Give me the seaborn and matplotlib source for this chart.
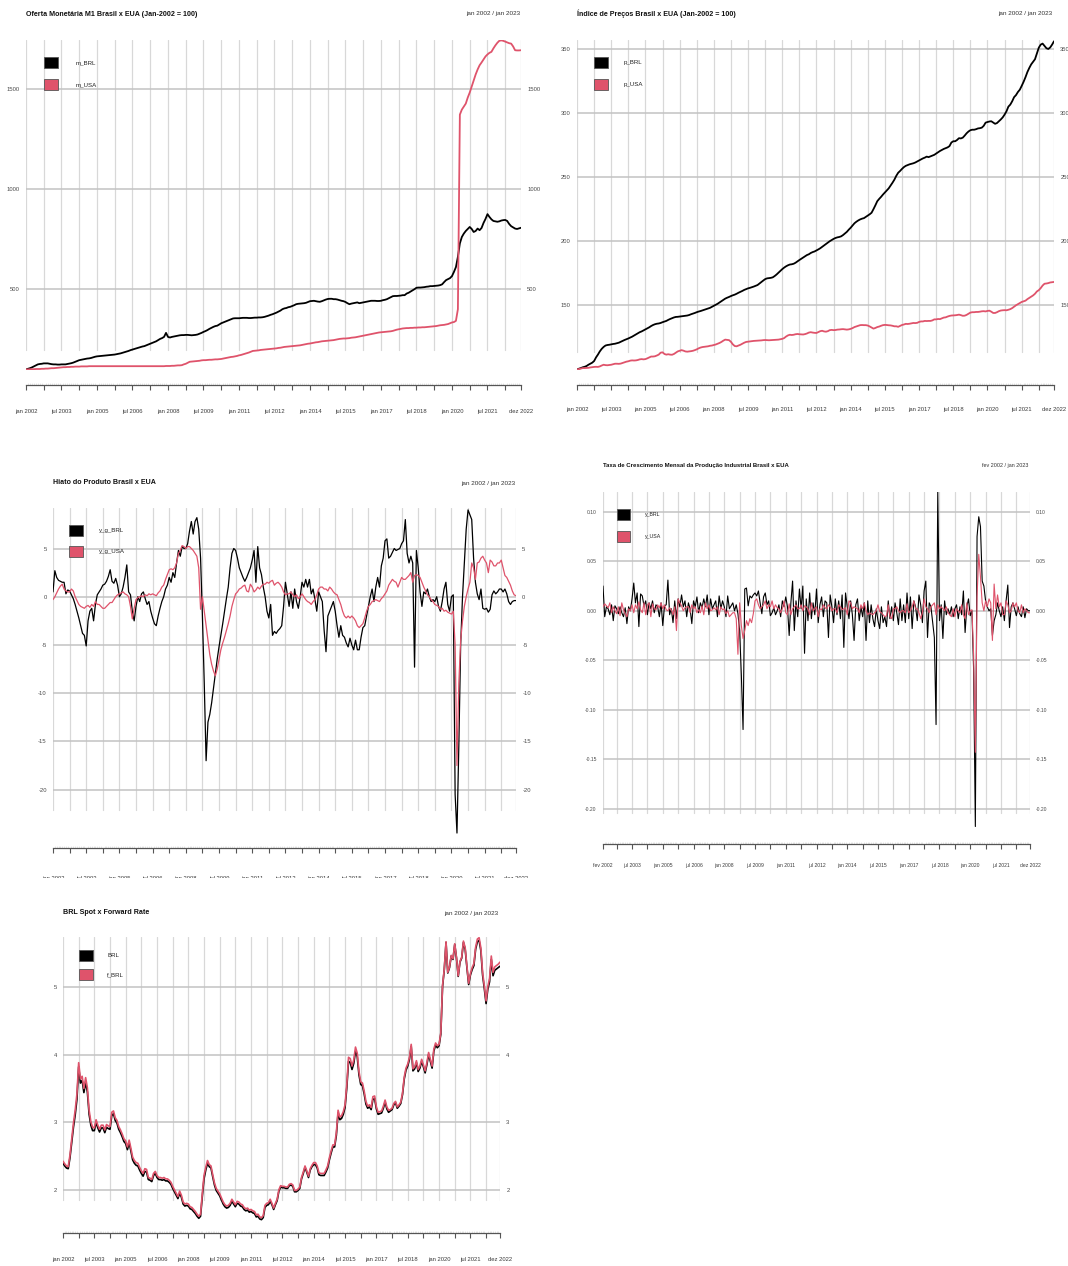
import numpy as np
import pandas as pd
import matplotlib
matplotlib.use("Agg")
import matplotlib.pyplot as plt
from matplotlib.patches import Rectangle
import seaborn as sns

sns.set_theme(style="white")
plt.rcParams["font.family"] = ["Liberation Sans Narrow", "Liberation Sans", "DejaVu Sans"]

W, H = 1068, 1266
PRETO = "#000000"
VERMELHO = "#DF536B"
MESES = ["jan", "fev", "mar", "abr", "mai", "jun", "jul", "ago", "set", "out", "nov", "dez"]

# ---- M1 (jan 2002 = 100), mensal jan 2002 - dez 2022
m_BRL = [
    100, 103, 106, 110, 115, 120, 125, 127, 128, 130, 130, 130,
    128, 126, 125, 125, 124, 124, 125, 125, 125, 127, 129, 131,
    134, 138, 142, 146, 148, 150, 152, 154, 155, 157, 160, 163,
    165, 166, 167, 168, 169, 170, 171, 172, 173, 174, 176, 178,
    180, 183, 186, 189, 192, 196, 199, 202, 205, 208, 211, 214,
    216, 220, 224, 228, 232, 236, 240, 246, 252, 256, 262, 282,
    262, 259, 262, 264, 266, 268, 270, 271, 271, 272, 272, 271,
    270, 271, 272, 274, 278, 282, 287, 291, 296, 302, 307, 312,
    316, 318, 324, 330, 334, 338, 342, 346, 350, 354, 355, 355,
    355, 356, 357, 357, 357, 356, 356, 357, 358, 358, 359, 359,
    360, 362, 365, 368, 372, 375, 379, 383, 388, 393, 400, 404,
    406, 410, 412, 416, 420, 425, 427, 428, 429, 430, 432, 436,
    440, 441, 442, 440, 438, 437, 440, 444, 448, 451, 452, 452,
    450, 450, 448, 445, 442, 440, 436, 430, 425, 428, 430, 432,
    434, 430, 432, 434, 436, 438, 440, 442, 442, 442, 441, 441,
    442, 445, 447, 450, 455, 460, 465, 466, 466, 467, 468, 470,
    470, 478, 482, 488, 494, 500, 507, 508, 508, 509, 510, 512,
    513, 515, 515, 516, 517, 518, 520, 524, 535, 545, 550, 555,
    565, 586, 610, 661, 728, 760, 777, 790, 800, 810, 800, 785,
    790, 802, 794, 805, 830, 850, 874, 860, 848, 840, 838, 836,
    838, 842, 844, 845, 840, 825, 814, 808, 802, 800, 803, 806,
]
m_USA = [
    100, 100, 101, 101, 101, 102, 102, 102, 103, 103, 104, 104,
    105, 106, 106, 107, 108, 109, 110, 111, 111, 112, 112, 113,
    113, 114, 114, 114, 115, 115, 115, 115, 116, 116, 116, 116,
    116, 116, 116, 116, 116, 116, 116, 116, 116, 116, 116, 116,
    116, 116, 116, 116, 116, 116, 116, 116, 116, 116, 116, 116,
    116, 116, 116, 116, 116, 116, 116, 116, 116, 116, 116, 117,
    117, 117, 118, 118, 119, 120, 120, 121, 125, 128, 133, 138,
    139, 140, 141, 142, 143, 145, 146, 146, 147, 148, 148, 149,
    150, 150, 151, 152, 154, 156, 158, 160, 162, 163, 165, 167,
    170, 172, 175, 178, 181, 184, 188, 192, 193, 194, 195, 197,
    198, 199, 200, 201, 202, 203, 204, 205, 207, 208, 210, 212,
    213, 214, 215, 216, 217, 218, 219, 220, 222, 224, 226, 228,
    229, 231, 233, 235, 236, 238, 240, 241, 242, 243, 244, 245,
    246, 248, 250, 252, 253, 254, 254, 255, 256, 258, 259, 260,
    262, 264, 266, 268, 270, 272, 274, 276, 278, 280, 282, 284,
    285, 286, 287, 288, 289, 290, 292, 295, 298, 300, 302, 304,
    305, 306, 306, 307, 307, 308, 308, 309, 309, 310, 310, 311,
    312, 313, 314, 315, 316, 318, 320, 321, 322, 324, 326, 330,
    334, 336, 342, 400, 1370, 1395, 1410, 1425, 1455, 1480, 1510, 1540,
    1570, 1595, 1616, 1630, 1645, 1660, 1670, 1678, 1683, 1700, 1715, 1728,
    1738, 1740, 1738, 1734, 1730, 1726, 1724, 1710, 1691, 1690, 1690, 1691,
]

# ---- indices de precos (jan 2002 = 100)
p_BRL = [
    100.0, 100.5, 101.0, 101.6, 102.0, 102.6, 103.6, 104.4, 105.2, 106.5, 109.3, 111.5,
    114.0, 116.0, 117.5, 118.6, 119.0, 119.2, 119.5, 119.8, 120.0, 120.4, 120.8, 121.5,
    122.2, 122.9, 123.5, 124.1, 124.8, 125.5, 126.4, 127.3, 128.2, 129.0, 129.6, 130.4,
    131.2, 132.0, 132.8, 133.8, 134.6, 135.2, 135.6, 135.8, 136.2, 136.8, 137.3, 137.8,
    138.6, 139.3, 139.9, 140.5, 140.9, 141.0, 141.2, 141.4, 141.6, 141.8, 142.0, 142.4,
    143.0, 143.5, 144.0, 144.6, 145.1, 145.5, 146.0, 146.5, 147.0, 147.5, 148.0, 148.8,
    149.6, 150.4, 151.2, 152.2, 153.3, 154.3, 155.2, 155.9, 156.5, 157.2, 157.8, 158.3,
    159.0, 159.8, 160.5, 161.2, 162.0, 162.6, 163.2, 163.6, 164.1, 164.6, 165.2, 165.8,
    167.0, 168.2, 169.3, 170.4, 171.0, 171.2, 171.4, 171.8, 172.8, 174.0, 175.4, 176.8,
    178.2, 179.4, 180.4, 181.2, 181.8, 182.0, 182.4, 183.2, 184.3, 185.3, 186.3, 187.4,
    188.4, 189.2, 189.8, 190.8, 191.5, 192.0, 192.8, 193.6, 194.5, 195.6, 196.6, 197.8,
    198.9, 200.0, 200.9, 201.8, 202.5, 203.0, 203.3, 203.8, 204.8, 206.0, 207.3, 209.0,
    210.5, 212.2, 214.0, 215.2, 216.2, 217.0, 217.6, 218.0, 219.0, 220.0, 221.0, 222.2,
    225.0, 228.0, 231.2, 233.0, 234.6, 236.4, 238.0, 239.5, 241.2, 243.4, 245.6, 248.0,
    251.0, 253.4, 254.8, 256.4, 257.8, 258.8, 259.4, 260.0, 260.4, 260.8, 261.4, 262.2,
    263.0, 263.8, 264.6, 265.2, 266.0, 265.6, 266.2, 266.8, 267.4, 268.4, 269.4, 270.4,
    271.2, 272.0, 272.6, 273.2, 274.2, 277.0, 278.0, 278.0, 279.0, 280.4, 280.2, 280.8,
    282.4, 284.2, 285.6, 286.6, 287.0, 287.0, 287.4, 288.0, 288.2, 288.6, 290.0, 292.5,
    293.0, 293.4, 293.6, 292.6, 291.6, 292.2, 293.6, 295.0, 296.6, 298.8, 301.4, 305.0,
    306.6, 309.2, 312.4, 314.0, 316.4, 318.2, 321.2, 324.4, 328.0, 332.0, 335.2, 338.0,
    340.0, 342.0, 346.4, 351.0, 353.4, 354.2, 352.4, 350.6, 350.0, 351.2, 353.4, 356.0,
]
p_USA = [
    100.0, 100.2, 100.6, 101.0, 101.0, 101.1, 101.2, 101.5, 101.7, 101.9, 102.0, 101.9,
    102.3, 103.0, 103.6, 103.3, 103.2, 103.4, 103.6, 104.0, 104.4, 104.4, 104.3, 104.5,
    105.0, 105.5, 106.0, 106.3, 106.8, 107.0, 106.9, 107.0, 107.3, 107.8, 108.0, 107.8,
    108.0, 108.6, 109.3, 110.0, 110.0, 110.2, 110.8, 111.5, 113.0, 113.3, 112.0, 111.5,
    111.8, 111.5, 111.4, 112.0, 113.0, 114.0, 114.5, 115.0, 114.6, 114.0, 113.8, 114.0,
    114.2, 114.5, 115.0, 115.6, 116.4, 117.0, 117.4, 117.6, 117.8, 118.0, 118.4, 118.6,
    119.0, 119.4, 120.0, 120.6, 121.4, 122.4, 123.2, 123.0, 122.8, 121.5, 119.5, 118.2,
    118.0, 118.6, 119.2, 120.0, 120.8, 121.4, 121.6, 121.8, 122.0, 122.2, 122.3, 122.4,
    122.5, 122.6, 122.8, 122.9, 122.8, 122.7, 122.8, 122.9, 123.0, 123.1, 123.2, 123.5,
    123.8, 124.4, 125.6, 126.5, 127.0, 126.8, 127.0, 127.4, 127.6, 127.4, 127.3, 127.2,
    127.5, 128.0, 128.7, 129.0, 128.7, 128.5, 128.4, 129.1, 129.8, 130.1, 129.6, 129.4,
    129.8, 130.6, 130.8, 130.6, 130.7, 131.0, 131.1, 131.3, 131.4, 131.2, 131.0, 131.2,
    131.6, 132.2, 133.0, 133.5, 134.0, 134.5, 134.6, 134.5, 134.5, 134.2, 133.5, 132.6,
    131.8, 132.3, 133.0, 133.4, 134.0, 134.5, 134.7, 134.6, 134.4, 134.3, 134.0, 133.6,
    133.6, 133.2, 133.9, 134.6, 135.0, 135.5, 135.4, 135.6, 135.9, 136.2, 136.1, 136.3,
    137.0, 137.4, 137.4, 137.8, 137.7, 137.8, 137.8, 138.2, 139.0, 139.0, 139.3, 139.2,
    139.8, 140.4, 140.6, 141.2, 141.7, 142.0, 142.1, 142.2, 142.4, 142.7, 142.3, 141.8,
    141.9, 142.5, 143.4, 144.3, 144.6, 144.6, 144.8, 144.8, 145.0, 145.3, 145.4, 145.2,
    145.6, 145.8, 145.0, 144.0, 144.0, 144.6, 145.4, 145.9, 146.1, 146.2, 146.1, 146.5,
    147.0, 147.8, 148.9, 150.0, 150.9, 151.9, 152.6, 153.1, 153.6, 154.8, 155.8, 156.7,
    157.7, 159.0, 160.8, 161.8, 163.4, 165.4, 166.8, 167.0, 167.3, 167.8, 168.0, 168.2,
]

# ---- hiato do produto (%)
y_g_BRL = [
    0.5, 2.7, 2.0, 1.7, 1.6, 1.5, 1.5, 0.3, 0.7, 0.6, 0.2, -0.2,
    -0.8, -1.5, -2.2, -3.0, -3.8, -4.0, -5.1, -2.5, -1.5, -1.2, -2.5, -0.8,
    0.2, 0.5, 0.8, 1.2, 1.3, 1.6, 2.1, 2.8, 1.6, 1.4, 1.9, 1.2,
    0.0, 0.3, 1.0, 2.0, 3.3, 0.5, 0.2, -1.5, -2.5, -1.0, 0.0, -0.5,
    0.3, 0.5, -0.2, -0.8, -0.5, -1.5, -2.2, -2.8, -3.0, -2.0, -1.2, -0.5,
    0.0, 0.8, 1.2, 2.0, 1.5, 2.5, 2.0, 3.5, 4.8, 4.2, 5.2, 5.0,
    5.0, 5.5, 6.8, 7.8, 6.5, 7.8, 8.2, 7.0, 4.0, -2.0, -9.0, -17.0,
    -13.0, -12.2, -11.0, -9.5, -8.0, -6.5, -5.2, -4.0, -2.8, -1.5, -0.2, 1.0,
    3.0, 4.5, 5.0, 4.8, 4.0, 3.0, 2.5, 2.0, 1.6, 2.0, 2.5, 3.0,
    3.8, 4.8, 1.5, 5.2, 3.0, 2.3, 1.0, 0.0, -1.5, -2.2, -0.8, -4.0,
    -3.6, -3.8, -3.5, -3.3, -3.0, -1.0, 1.5, 0.3, -1.0, 0.5, -1.2, 0.8,
    -0.5, -1.2, 0.0, 1.5, 1.0, 1.8, 1.0, 1.8, 0.3, 0.8, -0.3, -1.5,
    0.5, 0.0, -0.5, -3.5, -5.7, -2.0, -1.5, -1.0, -0.5, -1.5, -3.0, -4.2,
    -3.0, -4.0, -4.2, -4.8, -5.2, -4.3, -5.0, -5.5, -4.5, -5.5, -5.5, -4.2,
    -3.2, -3.0, -2.0, -1.0, 0.0, 0.8, -0.5, 1.0, 2.0, 1.0, 3.2, 4.0,
    5.8, 6.0, 4.0, 4.2, 4.6, 5.0, 4.8, 4.9, 5.0, 5.5, 5.8, 8.0,
    4.5, 3.5, 4.2, 3.5, -7.3, 4.8, 3.0, 0.5, -1.0, 0.5, 0.3, 0.8,
    0.0, -0.5, -0.3, -0.5, 0.0, -1.0, -1.5, -0.5, 0.8, 1.5, -0.8, -1.5,
    0.0, 0.2, -20.5, -24.5, -15.5, -5.0, 0.0, 3.5, 7.0, 9.0, 8.5, 8.0,
    4.0, 1.5, 0.3, -0.3, 0.8, -1.2, -1.3, -1.2, -1.6, -1.3, 0.2, 0.6,
    0.3, 0.5, 0.8, 0.8, 0.5, 0.8, 0.3, -0.5, -0.8, -0.5, -0.4, -0.4,
]
y_g_USA = [
    -0.3, 0.0, 0.4, 0.8, 1.1, 1.3, 0.8, 0.6, 0.5, 0.5, 0.8, 0.6,
    0.0, -0.4, -0.8, -1.0, -1.1, -1.2, -1.0, -0.9, -1.1, -0.8, -1.0, -0.5,
    -0.8, -0.8, -1.0, -1.2, -1.2, -1.0, -0.8, -0.6, -0.6, -0.3, 0.0, 0.2,
    0.3, 0.4, 0.5, 0.3, 0.2, 0.0, -1.0, -2.3, -1.2, -0.3, -0.1, 0.0,
    0.1, 0.0, 0.2, 0.1, 0.3, 0.2, 0.3, 0.2, 0.1, 0.4, 0.6, 1.0,
    1.2, 1.8, 2.3, 2.8, 2.9, 2.8, 3.0, 3.5, 4.5, 4.8, 5.3, 5.2,
    5.0, 5.2, 5.2, 5.0, 4.8, 4.5, 4.2, 3.0, -1.3, 0.0, -1.5, -3.0,
    -4.5, -6.0, -7.0, -7.7, -8.2, -7.5, -6.5, -5.5, -4.8, -4.2, -3.5, -2.8,
    -2.0, -1.0, -0.3, 0.3, 0.5, 0.8, 0.9, 1.1, 1.2, 0.6, 0.5, 1.3,
    1.0, 0.5, 0.7, 1.0, 0.8, 1.1, 1.3, 1.3, 1.5, 1.4, 1.6, 1.7,
    1.2, 1.4, 1.5, 1.3, 1.0, 0.5, 0.2, 0.3, 0.3, 0.5, 0.2, 0.0,
    0.2, -0.2, 0.0, 0.3, 0.0, -0.3, -0.5, -0.6, -0.8, -0.5, -0.3, 0.2,
    0.8, 1.0, 1.0, 0.8, 0.8, 0.6, 1.0, 0.8, 0.5, 0.3, 0.2, -0.3,
    -0.8, -1.5, -2.0, -2.2, -2.0, -2.2, -2.0, -2.2, -2.5, -3.0, -3.2, -3.0,
    -2.8, -2.2, -1.5, -1.0, -0.8, -0.5, -0.4, -0.3, -0.4, -0.5, -0.2, 0.0,
    0.3, 0.6, 1.2, 1.5, 1.8, 1.6, 1.5, 1.0, 1.5, 2.0, 1.8, 1.8,
    2.0, 2.2, 2.5, 1.5, 2.2, 2.3, 2.2, 2.0, 1.5, 1.0, 0.6, 0.2,
    0.0, -0.3, -0.5, -0.8, -0.9, -1.0, -1.3, -1.2, -1.5, -1.4, -1.6, -1.7,
    -1.8, -1.5, -5.0, -17.5, -9.0, -4.5, -2.5, -1.0, 0.0, 0.8, 1.5, 3.5,
    3.0, 1.8, 3.5, 3.6, 4.0, 4.2, 3.8, 3.5, 2.5, 3.8, 3.6, 3.2,
    3.2, 3.5, 3.5, 3.8, 3.0, 2.2, 2.0, 1.6, 1.2, 0.6, 0.2, 0.1,
]

# ---- crescimento mensal da producao industrial, fev 2002 - dez 2022
y_BRL = [
    0.025, -0.006, 0.004, 0.002, -0.004, 0.006, -0.010, 0.005, 0.002, -0.003, 0.004,
    -0.002, -0.006, 0.003, -0.013, 0.004, 0.000, 0.012, 0.028, 0.008, 0.018, -0.016, 0.017,
    0.015, 0.005, 0.010, -0.004, 0.008, 0.002, 0.010, -0.002, 0.006, 0.004, -0.006, 0.008,
    -0.015, 0.005, 0.006, 0.031, -0.004, 0.002, -0.012, 0.010, -0.008, 0.012, 0.004, 0.016,
    0.004, 0.010, -0.006, 0.008, 0.002, -0.013, 0.010, 0.004, 0.014, -0.002, 0.008, 0.003,
    0.012, 0.004, 0.016, -0.004, 0.012, 0.002, 0.006, 0.010, -0.006, 0.015, 0.002, 0.010,
    0.004, -0.006, 0.015, 0.002, 0.005, 0.008, 0.000, 0.006, -0.003, -0.020, -0.065, -0.120,
    0.022, 0.023, 0.005, 0.015, 0.013, 0.016, 0.018, 0.015, 0.020, 0.008, -0.003, 0.014,
    0.018, 0.006, 0.010, -0.005, -0.002, 0.003, -0.004, 0.000, 0.006, -0.006, 0.010, 0.004,
    0.014, 0.004, -0.025, 0.008, 0.030, -0.020, 0.010, -0.006, 0.022, 0.002, 0.025, -0.043,
    0.012, -0.010, 0.018, -0.008, 0.008, -0.004, 0.022, -0.012, 0.006, 0.014, -0.006, 0.010,
    0.008, -0.027, 0.016, 0.004, -0.012, 0.012, -0.004, 0.010, -0.008, 0.016, -0.037, 0.018,
    0.004, -0.008, 0.010, -0.004, -0.030, 0.006, 0.012, -0.010, 0.004, -0.006, 0.008, -0.030,
    0.010, -0.012, 0.006, -0.008, -0.016, 0.002, -0.010, -0.018, 0.004, -0.012, -0.006, -0.016,
    0.010, -0.008, 0.004, -0.010, 0.008, -0.002, -0.014, 0.012, -0.010, 0.006, -0.012, 0.018,
    -0.008, 0.014, -0.018, 0.010, 0.004, -0.010, 0.016, 0.006, -0.012, 0.020, 0.030, -0.027,
    0.008, 0.004, -0.012, -0.027, -0.115, 0.120, -0.010, 0.006, -0.028, 0.010, -0.004, 0.002,
    -0.004, 0.004, -0.006, 0.002, 0.006, -0.008, 0.004, -0.004, 0.020, -0.022, 0.004, 0.012,
    -0.005, 0.000, -0.060, -0.218, 0.075, 0.095, 0.085, 0.030, 0.025, 0.010, 0.004, 0.000,
    0.002, -0.025, -0.010, -0.004, 0.008, 0.000, -0.006, 0.004, -0.010, 0.010, 0.026, -0.017,
    0.004, 0.008, 0.002, -0.005, 0.004, -0.003, -0.006, 0.004, -0.007, 0.002, 0.000, 0.000,
]
y_USA = [
    0.004, 0.007, 0.005, 0.003, 0.008, -0.002, 0.004, 0.000, -0.003, 0.004, -0.005,
    0.008, 0.001, -0.003, -0.006, 0.002, 0.000, 0.006, -0.002, 0.006, 0.002, 0.009, 0.001,
    -0.002, 0.008, -0.004, 0.006, 0.008, -0.006, 0.007, 0.002, 0.001, 0.006, 0.003, 0.008,
    0.002, 0.006, 0.001, 0.000, 0.003, 0.001, -0.004, 0.004, -0.020, 0.012, 0.008, 0.005,
    0.000, 0.003, 0.004, 0.004, -0.002, 0.006, 0.002, 0.004, -0.002, 0.001, -0.002, 0.005,
    -0.004, 0.008, 0.002, 0.006, 0.000, 0.001, 0.003, 0.001, 0.004, -0.004, 0.004, 0.001,
    0.002, -0.003, 0.000, -0.006, -0.004, -0.002, -0.002, -0.008, -0.044, 0.008, -0.015, -0.028,
    -0.020, -0.010, -0.015, -0.008, -0.012, -0.003, 0.010, 0.012, 0.006, 0.002, 0.004, 0.006,
    0.010, 0.002, 0.006, 0.004, 0.010, 0.002, 0.006, 0.003, 0.002, -0.002, 0.002, 0.010,
    -0.002, -0.004, 0.007, -0.004, 0.002, 0.004, 0.006, 0.002, 0.002, 0.006, 0.000, 0.005,
    0.004, 0.002, -0.004, 0.008, 0.000, 0.002, 0.004, -0.006, 0.002, 0.001, 0.006, 0.003,
    0.002, 0.006, 0.004, 0.000, 0.002, 0.002, -0.002, 0.006, 0.004, 0.001, 0.002, 0.003,
    -0.004, 0.010, 0.008, 0.002, 0.004, 0.003, 0.002, -0.002, 0.006, 0.002, 0.008, 0.000,
    -0.004, -0.002, -0.003, -0.004, -0.002, 0.000, 0.006, -0.001, -0.002, -0.004, -0.006, -0.005,
    0.006, -0.006, -0.008, 0.002, 0.002, 0.004, 0.000, -0.002, 0.000, 0.000, -0.002, 0.007,
    -0.002, 0.000, 0.004, 0.010, 0.002, 0.002, -0.002, -0.008, -0.002, 0.012, 0.004, 0.002,
    -0.002, 0.004, 0.006, 0.008, -0.004, 0.006, 0.002, 0.004, 0.002, 0.000, 0.004, -0.002,
    -0.004, -0.006, 0.002, -0.006, 0.002, 0.000, -0.002, 0.006, -0.004, -0.008, 0.008, -0.004,
    0.000, 0.001, -0.045, -0.143, 0.014, 0.057, 0.034, 0.008, 0.000, 0.010, 0.004, 0.012,
    0.008, -0.030, 0.027, 0.002, 0.016, 0.004, 0.008, -0.004, -0.004, 0.010, 0.006, -0.002,
    0.000, 0.008, 0.004, 0.008, 0.000, -0.002, 0.006, -0.002, 0.002, 0.000, -0.002, -0.002,
]

# ---- BRL spot x forward
BRL = [
    2.40, 2.36, 2.33, 2.32, 2.48, 2.71, 2.93, 3.11, 3.34, 3.82, 3.58, 3.62,
    3.44, 3.59, 3.45, 3.12, 2.96, 2.88, 2.88, 3.00, 2.92, 2.86, 2.92, 2.92,
    2.85, 2.93, 2.91, 2.90, 3.10, 3.13, 3.03, 2.99, 2.90, 2.85, 2.79, 2.72,
    2.69, 2.60, 2.70, 2.58, 2.45, 2.40, 2.37, 2.36, 2.30, 2.25, 2.21, 2.28,
    2.27, 2.16, 2.15, 2.13, 2.22, 2.25, 2.19, 2.16, 2.16, 2.15, 2.16, 2.14,
    2.14, 2.12, 2.09, 2.03, 1.98, 1.93, 1.88, 1.96, 1.90, 1.80, 1.77, 1.78,
    1.77, 1.73, 1.72, 1.69, 1.66, 1.62, 1.59, 1.62, 1.91, 2.17, 2.30, 2.40,
    2.35, 2.33, 2.20, 2.08, 2.00, 1.96, 1.92, 1.86, 1.80, 1.76, 1.74, 1.75,
    1.78, 1.84, 1.80, 1.76, 1.81, 1.80, 1.77, 1.76, 1.72, 1.70, 1.71, 1.68,
    1.69, 1.67, 1.66, 1.61, 1.62, 1.58, 1.57, 1.60, 1.75, 1.78, 1.79, 1.84,
    1.79, 1.72, 1.79, 1.85, 1.99, 2.05, 2.04, 2.04, 2.03, 2.03, 2.07, 2.08,
    2.06, 1.98, 1.98, 2.00, 2.03, 2.17, 2.25, 2.34, 2.27, 2.19, 2.30, 2.35,
    2.38, 2.38, 2.33, 2.23, 2.22, 2.22, 2.22, 2.27, 2.33, 2.45, 2.55, 2.64,
    2.64, 2.81, 3.14, 3.04, 3.06, 3.12, 3.22, 3.51, 3.90, 3.88, 3.78, 3.87,
    4.05, 3.97, 3.70, 3.56, 3.54, 3.42, 3.27, 3.21, 3.23, 3.19, 3.34, 3.35,
    3.20, 3.12, 3.13, 3.14, 3.21, 3.30, 3.20, 3.15, 3.17, 3.19, 3.26, 3.29,
    3.21, 3.24, 3.28, 3.41, 3.64, 3.77, 3.83, 3.93, 4.12, 3.76, 3.79, 3.88,
    3.75, 3.80, 3.90, 3.82, 3.73, 3.85, 4.00, 3.90, 3.80, 4.05, 4.14, 4.10,
    4.13, 4.30, 5.00, 5.25, 5.65, 5.20, 5.28, 5.45, 5.40, 5.62, 5.42, 5.15,
    5.36, 5.42, 5.65, 5.55, 5.28, 5.03, 5.17, 5.25, 5.31, 5.55, 5.66, 5.68,
    5.53, 5.17, 4.97, 4.75, 4.96, 5.07, 5.40, 5.16, 5.24, 5.26, 5.28, 5.30,
]
f_BRL = [
    2.43, 2.39, 2.36, 2.35, 2.52, 2.76, 2.99, 3.18, 3.42, 3.88, 3.64, 3.68,
    3.50, 3.66, 3.51, 3.18, 3.01, 2.93, 2.92, 3.04, 2.96, 2.90, 2.96, 2.96,
    2.89, 2.97, 2.95, 2.94, 3.15, 3.17, 3.07, 3.03, 2.94, 2.89, 2.83, 2.76,
    2.73, 2.64, 2.74, 2.62, 2.49, 2.44, 2.41, 2.40, 2.34, 2.29, 2.25, 2.32,
    2.31, 2.19, 2.18, 2.16, 2.25, 2.28, 2.22, 2.19, 2.19, 2.18, 2.19, 2.17,
    2.17, 2.15, 2.12, 2.06, 2.01, 1.96, 1.91, 1.99, 1.93, 1.83, 1.80, 1.81,
    1.80, 1.76, 1.75, 1.72, 1.69, 1.65, 1.62, 1.65, 1.95, 2.22, 2.34, 2.44,
    2.38, 2.36, 2.23, 2.11, 2.03, 1.99, 1.95, 1.89, 1.83, 1.79, 1.77, 1.78,
    1.81, 1.87, 1.83, 1.79, 1.84, 1.83, 1.80, 1.79, 1.75, 1.73, 1.74, 1.71,
    1.72, 1.70, 1.69, 1.64, 1.65, 1.61, 1.60, 1.63, 1.78, 1.81, 1.82, 1.87,
    1.81, 1.74, 1.81, 1.87, 2.01, 2.07, 2.06, 2.06, 2.05, 2.05, 2.09, 2.10,
    2.08, 2.00, 2.00, 2.02, 2.05, 2.19, 2.27, 2.36, 2.29, 2.21, 2.32, 2.37,
    2.41, 2.41, 2.36, 2.26, 2.25, 2.25, 2.25, 2.30, 2.36, 2.48, 2.58, 2.67,
    2.67, 2.85, 3.18, 3.08, 3.10, 3.16, 3.26, 3.56, 3.96, 3.94, 3.83, 3.92,
    4.11, 4.02, 3.75, 3.60, 3.58, 3.46, 3.31, 3.24, 3.26, 3.22, 3.38, 3.39,
    3.23, 3.15, 3.16, 3.17, 3.24, 3.33, 3.23, 3.18, 3.19, 3.21, 3.28, 3.31,
    3.23, 3.26, 3.30, 3.43, 3.67, 3.80, 3.86, 3.96, 4.15, 3.79, 3.82, 3.91,
    3.78, 3.83, 3.93, 3.85, 3.76, 3.88, 4.03, 3.93, 3.83, 4.08, 4.17, 4.13,
    4.15, 4.32, 5.02, 5.26, 5.66, 5.21, 5.29, 5.46, 5.41, 5.63, 5.43, 5.16,
    5.37, 5.43, 5.67, 5.57, 5.30, 5.05, 5.19, 5.28, 5.34, 5.58, 5.70, 5.72,
    5.57, 5.21, 5.01, 4.79, 5.00, 5.12, 5.45, 5.21, 5.29, 5.31, 5.33, 5.36,
]


def fx(x):
    return x / W


def fy(y):
    return 1 - y / H


def painel(fig, series, nomes, titulo, periodo, cx, yticks, ylim, fmt,
           inicio=0, lw=1.2, fs=1.0):
    l, r, t, b = cx["l"], cx["r"], cx["t"], cx["b"]
    ax = fig.add_axes([fx(l), fy(b), (r - l) / W, (b - t) / H])
    n = len(series[0])
    idx = np.arange(n)
    df = pd.DataFrame({"idx": np.tile(idx, len(series)),
                       "valor": np.concatenate([np.asarray(s, float) for s in series]),
                       "serie": np.repeat(nomes, n)})
    sns.lineplot(data=df, x="idx", y="valor", hue="serie", hue_order=nomes,
                 palette=[PRETO, VERMELHO], linewidth=lw, legend=False, ax=ax)
    ax.set_xlim(0, n - 1)
    ax.set_ylim(*ylim)
    ax.set_xlabel("")
    ax.set_ylabel("")
    ax.set_facecolor("none")

    # grade horizontal
    ax.set_yticks(yticks)
    ax.set_yticklabels([fmt.format(v) for v in yticks])
    for v in yticks:
        ax.axhline(v, color="#c2c2c2", lw=1.1, zorder=0.5)
    ax.tick_params(axis="y", length=0, labelleft=True, labelright=True,
                   labelsize=4.2 * fs, labelcolor="#4a4a4a", pad=4.5)

    # eixo de tempo (meses desde jan 2002)
    cal = np.arange(inicio, inicio + n)
    grade = [c for c in cal if c % 9 == 0]
    if cal[0] not in grade:
        grade = [cal[0]] + grade
    grade = grade + [cal[-1]]
    stop = (b - cx["grid"]) / (b - t)
    for c in grade:
        ax.axvline(c - inicio, ymin=stop, ymax=1, color="#d8d8d8", lw=0.9, zorder=0.4)
    rot = []
    for c in grade:
        if c % 18 == 0 or c == cal[0] or c == cal[-1]:
            rot.append(f"{MESES[c % 12]} {2002 + c // 12}")
        else:
            rot.append("")
    ax.set_xticks([c - inicio for c in grade])
    ax.set_xticklabels(rot)
    ax.set_xticks(idx, minor=True)
    for s in ["left", "right", "top"]:
        ax.spines[s].set_visible(False)
    ax.spines["bottom"].set_position(("outward", (cx["axis"] - b) * 0.72))
    ax.spines["bottom"].set_color("#555555")
    ax.spines["bottom"].set_linewidth(0.9)
    ax.tick_params(axis="x", which="major", direction="out", length=3.6, width=0.8,
                   color="#555555", labelsize=4.2 * fs, labelcolor="#3a3a3a",
                   pad=(cx["lab"] - cx["axis"] - 5 - 3) * 0.72, bottom=True)
    ax.tick_params(axis="x", which="minor", direction="in", length=1.8, width=0.4,
                   color="#d4d4d4", bottom=True)

    # titulo e periodo
    fig.text(fx(l), fy(cx["ty"]), titulo, ha="left", va="center",
             fontsize=5.1 * fs, fontweight="bold", color="#111111")
    fig.text(fx(cx["pr"]), fy(cx["ty"]), periodo, ha="right", va="center",
             fontsize=4.6 * fs, color="#333333")

    # legenda
    sx, sy = cx["sq"]
    sw, sh = cx.get("sqsize", (14, 11))
    for i, (nome, cor) in enumerate(zip(nomes, [PRETO, VERMELHO])):
        y0 = sy + i * cx["dy"]
        fig.patches.append(Rectangle((fx(sx), fy(y0 + sh)), sw / W, sh / H,
                                     transform=fig.transFigure, facecolor=cor,
                                     edgecolor="#555555", lw=0.6))
        fig.text(fx(cx["lx"]), fy(y0 + sh / 2), nome, ha="left", va="center",
                 fontsize=4.4 * fs, color="#222222")
    return ax


fig = plt.figure(figsize=(W / 100, H / 100), dpi=100)
fig.patch.set_facecolor("white")

P1 = dict(l=26, r=521, t=40, b=370, grid=350, axis=385, lab=412, ty=14, pr=520,
          sq=(44, 57), lx=76, dy=22)
P2 = dict(l=577, r=1054, t=40, b=370, grid=352, axis=385, lab=410, ty=14, pr=1052,
          sq=(594, 57), lx=624, dy=22)
P3 = dict(l=53, r=516, t=508, b=834, grid=810, axis=848, lab=879, ty=483, pr=515,
          sq=(69, 525), lx=99, dy=21)
P4 = dict(l=603, r=1030, t=492, b=828, grid=813, axis=844, lab=866, ty=465, pr=1028,
          sq=(617, 509), lx=645, dy=22, sqsize=(13, 11))
P5 = dict(l=63, r=500, t=937, b=1221, grid=1200, axis=1233, lab=1260, ty=913, pr=498,
          sq=(79, 950), lx=107, dy=19)

painel(fig, [m_BRL, m_USA], ["m_BRL", "m_USA"],
       "Oferta Monetária M1 Brasil x EUA (Jan-2002 = 100)", "jan 2002 / jan 2023",
       P1, [500, 1000, 1500], (97, 1742), "{:.0f}", lw=1.3)
painel(fig, [p_BRL, p_USA], ["p_BRL", "p_USA"],
       "Índice de Preços Brasil x EUA (Jan-2002 = 100)", "jan 2002 / jan 2023",
       P2, [150, 200, 250, 300, 350], (99.5, 357), "{:.0f}", lw=1.3)
painel(fig, [y_g_BRL, y_g_USA], ["y_g_BRL", "y_g_USA"],
       "Hiato do Produto Brasil x EUA", "jan 2002 / jan 2023",
       P3, [-20, -15, -10, -5, 0, 5], (-24.6, 9.2), "{:.0f}", lw=0.9)
painel(fig, [y_BRL, y_USA], ["y_BRL", "y_USA"],
       "Taxa de Crescimento Mensal da Produção Industrial Brasil x EUA", "fev 2002 / jan 2023",
       P4, [-0.20, -0.15, -0.10, -0.05, 0.00, 0.05, 0.10], (-0.2195, 0.12), "{:.2f}",
       inicio=1, lw=0.8, fs=0.85)
painel(fig, [BRL, f_BRL], ["BRL", "f_BRL"],
       "BRL Spot x Forward Rate", "jan 2002 / jan 2023",
       P5, [2, 3, 4, 5], (1.55, 5.73), "{:.0f}", lw=1.2)

# rotulos do hiato cortados na borda da imagem original
fig.patches.append(Rectangle((0, fy(895)), 545 / W, (895 - 878) / H,
                             transform=fig.transFigure, facecolor="white",
                             edgecolor="none", zorder=10))

fig.savefig("out.png", dpi=100, facecolor="white")
